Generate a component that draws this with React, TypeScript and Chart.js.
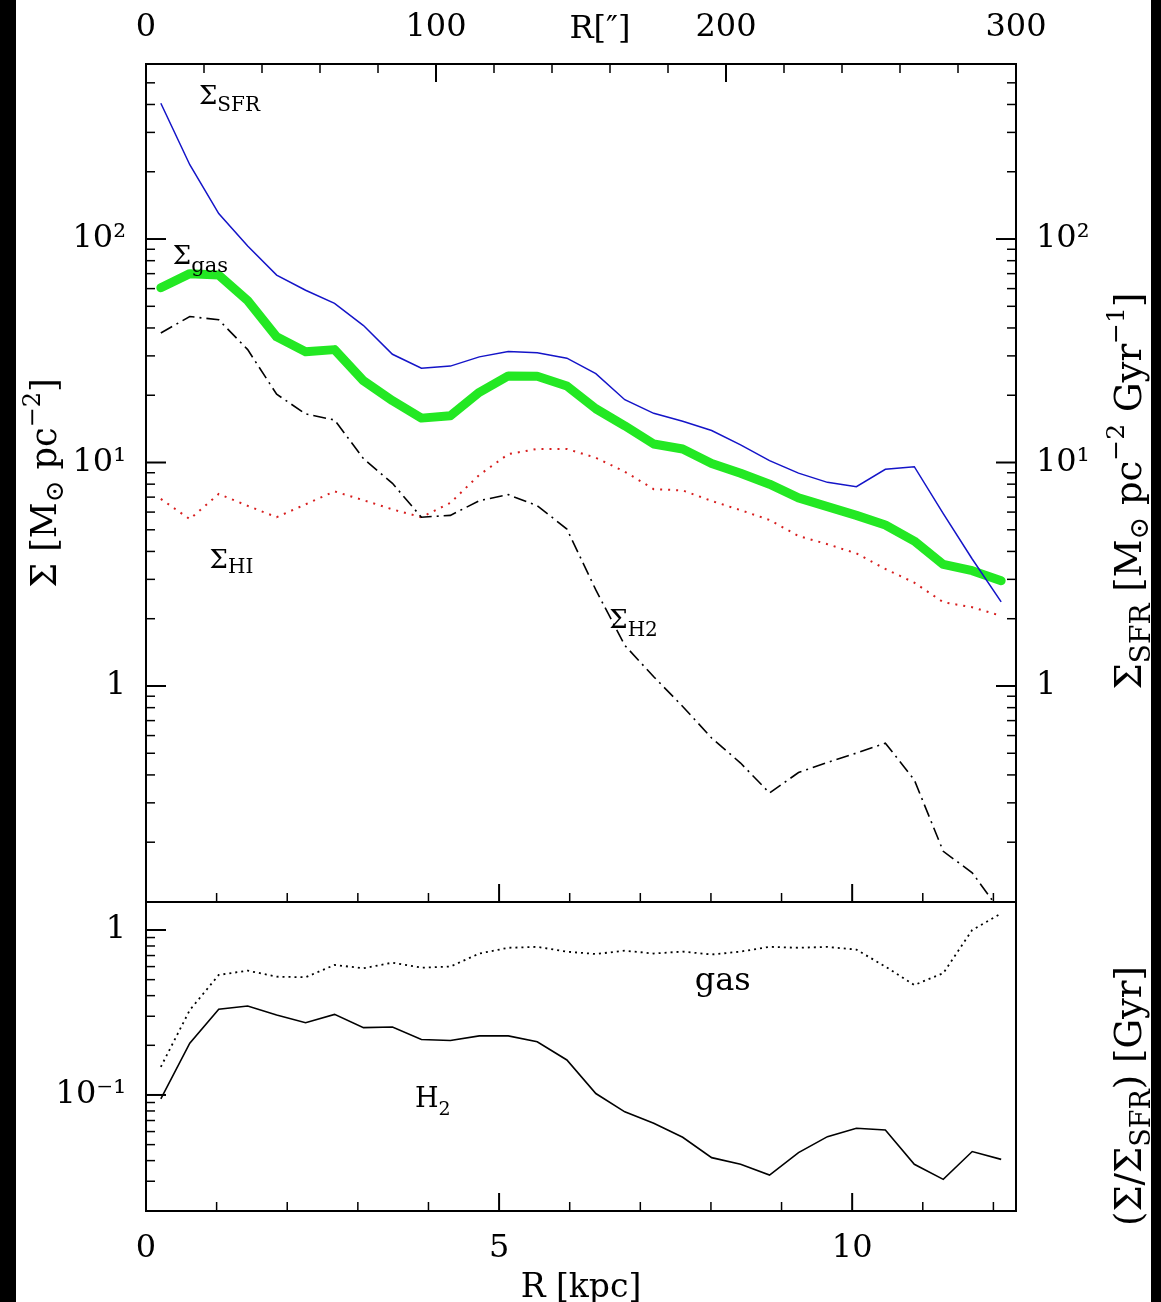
import React, { useEffect, useRef } from 'react';
import { Chart, registerables } from 'chart.js';

Chart.register(...registerables);

// Radial bins in kpc (10" rings centred on 5", 15", ... 295")
const radiusKpc = [
  0.21, 0.62, 1.03, 1.44, 1.85, 2.26, 2.67, 3.08, 3.49, 3.9,
  4.31, 4.72, 5.13, 5.54, 5.96, 6.37, 6.78, 7.19, 7.6, 8.01,
  8.42, 8.83, 9.24, 9.65, 10.06, 10.47, 10.88, 11.29, 11.7, 12.11,
];

// Surface densities [Msun pc^-2] and SFR surface density [Msun pc^-2 Gyr^-1]
const sigmaSFR = [
  405, 215, 130, 93, 69, 59, 51.5, 41, 30.5, 26.4,
  27, 29.7, 31.4, 31, 29.3, 25, 19.1, 16.6, 15.3, 13.9,
  12, 10.2, 8.96, 8.15, 7.8, 9.33, 9.58, 5.9, 3.7, 2.38,
];
const sigmaGas = [
  60.5, 70, 69, 53, 36.5, 31.3, 32, 23.2, 18.9, 15.8,
  16.2, 20.6, 24.4, 24.3, 22, 17.4, 14.6, 12.1, 11.5, 9.9,
  8.95, 8.0, 6.95, 6.35, 5.8, 5.25, 4.45, 3.5, 3.28, 2.96,
];
const sigmaHI = [
  6.87, 5.58, 7.23, 6.4, 5.69, 6.5, 7.43, 6.78, 6.17, 5.69,
  6.6, 8.8, 10.9, 11.5, 11.5, 10.5, 9.1, 7.6, 7.5, 6.73,
  6.12, 5.53, 4.69, 4.31, 3.92, 3.34, 2.9, 2.37, 2.25, 2.06,
];
const sigmaH2 = [
  38, 45, 43.5, 32, 20.2, 16.5, 15.5, 10.4, 8.07, 5.69,
  5.8, 6.75, 7.18, 6.41, 5.04, 2.69, 1.52, 1.1, 0.81, 0.585,
  0.452, 0.332, 0.41, 0.455, 0.501, 0.555, 0.38, 0.182, 0.146, 0.097,
];

// Depletion times Sigma / Sigma_SFR [Gyr]
const tauGas = [
  0.148, 0.327, 0.534, 0.567, 0.521, 0.517, 0.614, 0.586, 0.634, 0.591,
  0.6, 0.72, 0.78, 0.79, 0.739, 0.715, 0.749, 0.72, 0.74, 0.71,
  0.74, 0.79, 0.78, 0.79, 0.76, 0.6, 0.464, 0.547, 1.0, 1.26,
];
const tauH2 = [
  0.0946, 0.206, 0.331, 0.346, 0.305, 0.274, 0.308, 0.256, 0.258, 0.217,
  0.214, 0.228, 0.228, 0.21, 0.163, 0.102, 0.079, 0.0673, 0.0554, 0.0417,
  0.038, 0.0327, 0.0447, 0.0559, 0.0628, 0.0614, 0.038, 0.0308, 0.0454, 0.0407,
];

// Tick positions and labels
const kpcTicks = [0, 1, 2, 3, 4, 5, 6, 7, 8, 9, 10, 11, 12];
const kpcLabels = new Map<number, string>([[0, '0'], [5, '5'], [10, '10']]);
const arcsecTicks = [0, 20, 40, 60, 80, 100, 120, 140, 160, 180, 200, 220, 240, 260, 280, 300];
const arcsecLabels = new Map<number, string>([[0, '0'], [100, '100'], [200, '200'], [300, '300']]);
const surfaceTicks = [
  0.2, 0.3, 0.4, 0.5, 0.6, 0.7, 0.8, 0.9,
  1, 2, 3, 4, 5, 6, 7, 8, 9,
  10, 20, 30, 40, 50, 60, 70, 80, 90,
  100, 200, 300, 400, 500,
];
const surfaceLabels = new Map<number, string>([[1, '1'], [10, '10¹'], [100, '10²']]);
const ratioTicks = [0.03, 0.04, 0.05, 0.06, 0.07, 0.08, 0.09, 0.1, 0.2, 0.3, 0.4, 0.5, 0.6, 0.7, 0.8, 0.9, 1];
const ratioLabels = new Map<number, string>([[0.1, '10⁻¹'], [1, '1']]);

// Axis ranges
const X_MAX_KPC = 12.32;
const X_MAX_ARCSEC = 300;
const SURFACE_MIN = 0.108;
const SURFACE_MAX = 607;
const RATIO_MIN = 0.0198;
const RATIO_MAX = 1.478;

const FONT = '"DejaVu Serif", "Liberation Serif", serif';
const tickFont = { family: '"DejaVu Serif", "Liberation Serif", serif', size: 32 };

type Part = { text: string; size: number; dy?: number };

function partsWidth(ctx: CanvasRenderingContext2D, parts: Part[]) {
  let w = 0;
  for (const p of parts) {
    ctx.font = `${p.size}px ${FONT}`;
    w += ctx.measureText(p.text).width;
  }
  return w;
}

function drawParts(
  ctx: CanvasRenderingContext2D,
  parts: Part[],
  x: number,
  y: number,
  angle = 0,
  align: 'left' | 'center' = 'left',
) {
  ctx.save();
  ctx.translate(x, y);
  ctx.rotate(angle);
  ctx.fillStyle = '#000';
  ctx.textAlign = 'left';
  ctx.textBaseline = 'alphabetic';
  let cx = align === 'center' ? -partsWidth(ctx, parts) / 2 : 0;
  for (const p of parts) {
    ctx.font = `${p.size}px ${FONT}`;
    ctx.fillText(p.text, cx, p.dy || 0);
    cx += ctx.measureText(p.text).width;
  }
  ctx.restore();
}

// Curve labels, anchored in data coordinates
const curveLabels: { parts: Part[]; x: number; y: number; axis: string }[] = [
  { parts: [{ text: 'Σ', size: 26 }, { text: 'SFR', size: 20, dy: 7 }], x: 0.75, y: 400, axis: 'yTop' },
  { parts: [{ text: 'Σ', size: 26 }, { text: 'gas', size: 21, dy: 8 }], x: 0.38, y: 77, axis: 'yTop' },
  { parts: [{ text: 'Σ', size: 26 }, { text: 'HI', size: 20, dy: 5 }], x: 0.9, y: 3.37, axis: 'yTop' },
  { parts: [{ text: 'Σ', size: 26 }, { text: 'H2', size: 20, dy: 8 }], x: 6.56, y: 1.82, axis: 'yTop' },
  { parts: [{ text: 'gas', size: 32 }], x: 7.77, y: 0.433, axis: 'yBot' },
  { parts: [{ text: 'H', size: 27 }, { text: '2', size: 19, dy: 8 }], x: 3.81, y: 0.0846, axis: 'yBot' },
];

const leftTitle: Part[] = [
  { text: 'Σ [M', size: 35 },
  { text: '⊙', size: 26, dy: 7 },
  { text: ' pc', size: 35 },
  { text: '−2', size: 24, dy: -16 },
  { text: ']', size: 35 },
];
const rightTitle: Part[] = [
  { text: 'Σ', size: 37 },
  { text: 'SFR', size: 28, dy: 9 },
  { text: ' [M', size: 37 },
  { text: '⊙', size: 27, dy: 7 },
  { text: ' pc', size: 37 },
  { text: '−2', size: 25, dy: -17 },
  { text: ' Gyr', size: 37 },
  { text: '−1', size: 25, dy: -17 },
  { text: ']', size: 37 },
];
const ratioTitle: Part[] = [
  { text: '(Σ/Σ', size: 37 },
  { text: 'SFR', size: 27, dy: 9 },
  { text: ') [Gyr]', size: 37 },
];

const pageBackground = {
  id: 'pageBackground',
  beforeDraw(chart: any) {
    const { ctx, width, height } = chart;
    ctx.save();
    ctx.fillStyle = '#000';
    ctx.fillRect(0, 0, width, height);
    ctx.fillStyle = '#fff';
    ctx.fillRect(16, 0, 1135, height);
    ctx.restore();
  },
};

// Keep each curve inside its own panel
const panelClip = {
  id: 'panelClip',
  beforeDatasetDraw(chart: any, args: any) {
    const ys = chart.scales[args.meta.yAxisID];
    const a = chart.chartArea;
    chart.ctx.save();
    chart.ctx.beginPath();
    chart.ctx.rect(a.left, ys.top, a.right - a.left, ys.bottom - ys.top);
    chart.ctx.clip();
  },
  afterDatasetDraw(chart: any) {
    chart.ctx.restore();
  },
};

const MAJOR = 18;
const MINOR = 9;

const frameTicks = {
  id: 'frameTicks',
  afterDatasetsDraw(chart: any) {
    const { ctx, chartArea: a, scales } = chart;
    const { x, x2, yTop, yBot, ySfr } = scales;
    ctx.save();
    ctx.strokeStyle = '#000';
    ctx.lineCap = 'butt';
    const seg = (x0: number, y0: number, x1: number, y1: number, w: number) => {
      ctx.lineWidth = w;
      ctx.beginPath();
      ctx.moveTo(x0, y0);
      ctx.lineTo(x1, y1);
      ctx.stroke();
    };
    for (const v of kpcTicks) {
      const px = x.getPixelForValue(v);
      const major = kpcLabels.has(v);
      const L = major ? MAJOR : MINOR;
      seg(px, yBot.bottom, px, yBot.bottom - L, major ? 2 : 1.5);
      seg(px, yTop.bottom, px, yTop.bottom - L, major ? 2 : 1.5);
    }
    for (const v of arcsecTicks) {
      const px = x2.getPixelForValue(v);
      const major = arcsecLabels.has(v);
      seg(px, yTop.top, px, yTop.top + (major ? MAJOR : MINOR), major ? 2 : 1.5);
    }
    for (const v of surfaceTicks) {
      const major = surfaceLabels.has(v);
      const L = major ? MAJOR + 2 : MINOR;
      const w = major ? 2 : 1.5;
      const pl = yTop.getPixelForValue(v);
      seg(a.left, pl, a.left + L, pl, w);
      const pr = ySfr.getPixelForValue(v);
      seg(a.right, pr, a.right - L, pr, w);
    }
    for (const v of ratioTicks) {
      const major = ratioLabels.has(v);
      const py = yBot.getPixelForValue(v);
      seg(a.left, py, a.left + (major ? MAJOR + 2 : MINOR), py, major ? 2 : 1.5);
    }
    ctx.lineWidth = 2;
    ctx.strokeRect(a.left, yTop.top, a.right - a.left, yTop.bottom - yTop.top);
    ctx.strokeRect(a.left, yBot.top, a.right - a.left, yBot.bottom - yBot.top);
    ctx.restore();
  },
};

const textLayer = {
  id: 'textLayer',
  afterDraw(chart: any) {
    const { ctx, chartArea: a, scales, width, height } = chart;
    const { x, x2, yTop, yBot } = scales;
    for (const lab of curveLabels) {
      drawParts(ctx, lab.parts, x.getPixelForValue(lab.x), scales[lab.axis].getPixelForValue(lab.y));
    }
    // top axis name sits on the tick-label line
    drawParts(ctx, [{ text: 'R[″]', size: 32 }], x2.getPixelForValue(146), 38);
    // bottom axis name
    drawParts(ctx, [{ text: 'R [kpc]', size: 33 }], (a.left + a.right) / 2, a.bottom + 86, 0, 'center');
    // vertical axis names
    const topMid = (yTop.top + yTop.bottom) / 2;
    drawParts(ctx, leftTitle, 56, topMid, -Math.PI / 2, 'center');
    drawParts(ctx, rightTitle, 1141, topMid + 8, -Math.PI / 2, 'center');
    drawParts(ctx, ratioTitle, 1141, yBot.top + 194, -Math.PI / 2, 'center');
    // dark margins on both sides of the page
    ctx.save();
    ctx.fillStyle = '#000';
    ctx.fillRect(0, 0, 16, height);
    ctx.fillRect(1151, 0, width - 1151, height);
    ctx.restore();
  },
};

function pts(ys: number[]) {
  return radiusKpc.map((r, i) => ({ x: r, y: ys[i] }));
}

export default function App() {
  const canvasRef = useRef<HTMLCanvasElement | null>(null);

  useEffect(() => {
    const canvas = canvasRef.current;
    if (!canvas) return;
    const fixed = (w?: number, h?: number) => (s: any) => {
      if (w !== undefined) s.width = w;
      if (h !== undefined) s.height = h;
    };
    const common = {
      grid: { display: false, drawTicks: false },
      border: { display: false },
    };
    const chart = new Chart(canvas, {
      type: 'line',
      data: {
        datasets: [
          {
            label: 'Σ_SFR',
            data: pts(sigmaSFR),
            yAxisID: 'ySfr',
            borderColor: 'rgb(20, 20, 200)',
            borderWidth: 1.5,
            pointRadius: 0,
            tension: 0,
          },
          {
            label: 'Σ_H2',
            data: pts(sigmaH2),
            yAxisID: 'yTop',
            borderColor: '#000',
            borderWidth: 1.6,
            borderDash: [13, 5, 2, 5],
            pointRadius: 0,
            tension: 0,
          },
          {
            label: 'Σ_HI',
            data: pts(sigmaHI),
            yAxisID: 'yTop',
            borderColor: 'rgb(215, 30, 30)',
            borderWidth: 2,
            borderDash: [2, 6],
            pointRadius: 0,
            tension: 0,
          },
          {
            label: 'Σ_gas',
            data: pts(sigmaGas),
            yAxisID: 'yTop',
            borderColor: 'rgb(35, 232, 35)',
            borderWidth: 9,
            borderCapStyle: 'round',
            borderJoinStyle: 'round',
            pointRadius: 0,
            tension: 0,
          },
          {
            label: 'gas',
            data: pts(tauGas),
            yAxisID: 'yBot',
            borderColor: '#000',
            borderWidth: 1.8,
            borderDash: [2, 4],
            pointRadius: 0,
            tension: 0,
          },
          {
            label: 'H2',
            data: pts(tauH2),
            yAxisID: 'yBot',
            borderColor: '#000',
            borderWidth: 1.6,
            pointRadius: 0,
            tension: 0,
          },
        ],
      },
      options: {
        responsive: false,
        animation: false,
        devicePixelRatio: 1,
        layout: { padding: 0 },
        plugins: { legend: { display: false }, tooltip: { enabled: false } },
        scales: {
          x: {
            type: 'linear',
            position: 'bottom',
            min: 0,
            max: X_MAX_KPC,
            ...common,
            afterBuildTicks: (s: any) => {
              s.ticks = kpcTicks.map((v) => ({ value: v }));
            },
            ticks: {
              autoSkip: false,
              maxRotation: 0,
              minRotation: 0,
              padding: 18,
              color: '#000',
              font: tickFont,
              callback: (v: any) => kpcLabels.get(Number(v)) ?? '',
            },
            afterFit: fixed(undefined, 91),
          },
          x2: {
            type: 'linear',
            position: 'top',
            min: 0,
            max: X_MAX_ARCSEC,
            ...common,
            afterBuildTicks: (s: any) => {
              s.ticks = arcsecTicks.map((v) => ({ value: v }));
            },
            ticks: {
              autoSkip: false,
              maxRotation: 0,
              minRotation: 0,
              padding: 17,
              color: '#000',
              font: tickFont,
              callback: (v: any) => arcsecLabels.get(Number(v)) ?? '',
            },
            afterFit: fixed(undefined, 64),
          },
          yTop: {
            type: 'logarithmic',
            position: 'left',
            stack: 'left',
            stackWeight: 838,
            weight: 2,
            min: SURFACE_MIN,
            max: SURFACE_MAX,
            ...common,
            afterBuildTicks: (s: any) => {
              s.ticks = surfaceTicks.map((v) => ({ value: v }));
            },
            ticks: {
              autoSkip: false,
              padding: 20,
              color: '#000',
              font: tickFont,
              callback: (v: any) => surfaceLabels.get(Number(v)) ?? '',
            },
            afterFit: fixed(146),
          },
          yBot: {
            type: 'logarithmic',
            position: 'left',
            stack: 'left',
            stackWeight: 309,
            weight: 1,
            min: RATIO_MIN,
            max: RATIO_MAX,
            ...common,
            afterBuildTicks: (s: any) => {
              s.ticks = ratioTicks.map((v) => ({ value: v }));
            },
            ticks: {
              autoSkip: false,
              padding: 20,
              color: '#000',
              font: tickFont,
              callback: (v: any) => ratioLabels.get(Number(v)) ?? '',
            },
            afterFit: fixed(146),
          },
          ySfr: {
            type: 'logarithmic',
            position: 'right',
            stack: 'right',
            stackWeight: 838,
            weight: 1,
            min: SURFACE_MIN,
            max: SURFACE_MAX,
            ...common,
            afterBuildTicks: (s: any) => {
              s.ticks = surfaceTicks.map((v) => ({ value: v }));
            },
            ticks: {
              autoSkip: false,
              padding: 20,
              color: '#000',
              font: tickFont,
              callback: (v: any) => surfaceLabels.get(Number(v)) ?? '',
            },
            afterFit: fixed(145),
          },
          yRatioR: {
            type: 'logarithmic',
            position: 'right',
            stack: 'right',
            stackWeight: 309,
            weight: 2,
            min: RATIO_MIN,
            max: RATIO_MAX,
            ...common,
            ticks: { display: false },
            afterFit: fixed(145),
          },
        },
      },
      plugins: [pageBackground, panelClip, frameTicks, textLayer],
    } as any);
    return () => chart.destroy();
  }, []);

  return (
    <div style={{ position: 'absolute', left: 0, top: 0, width: 1161, height: 1302 }}>
      <canvas ref={canvasRef} width={1161} height={1302} style={{ display: 'block' }} />
    </div>
  );
}
